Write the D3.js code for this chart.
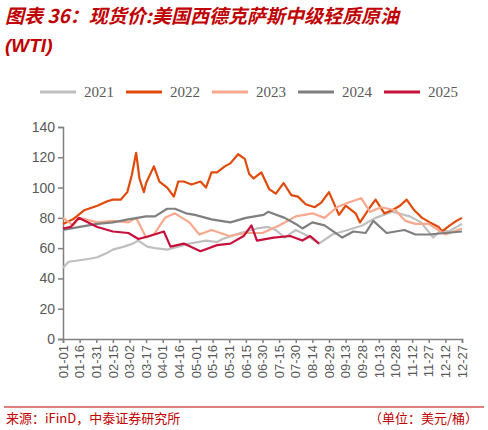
<!DOCTYPE html>
<html><head><meta charset="utf-8">
<script src="https://cdn.jsdelivr.net/npm/d3@7"></script>
<style>body{margin:0;background:#fff;font-family:"Liberation Sans",Arial,sans-serif}</style>
</head><body><svg width="488" height="430"></svg>
<script>
const years = ["2021", "2022", "2023", "2024", "2025"];
const colors = ["#bfbfbf", "#e04a0a", "#f8a88c", "#7f7f7f", "#c8103c"];
const tickLabels = ["01-01","01-16","01-31","02-15","03-02","03-17","04-01","04-16","05-01","05-16","05-31","06-15","06-30","07-15","07-30","08-14","08-29","09-13","09-28","10-13","10-28","11-12","11-27","12-12","12-27"];
const yTicks = [0, 20, 40, 60, 80, 100, 120, 140];

const s2021 = [["01-01",47],["01-06",51],["01-16",52],["01-25",53],["02-01",54],["02-10",57],["02-15",59],["02-25",61],["03-05",63],["03-10",65],["03-18",61],["03-25",60],["04-05",59],["04-15",61],["04-25",63],["05-10",65],["05-20",64],["05-25",66],["06-10",70],["06-25",73],["07-05",74],["07-12",72],["07-20",67],["07-30",72],["08-10",68],["08-20",63],["09-01",69],["09-15",72],["09-28",75],["10-10",80],["10-25",84],["11-10",81],["11-20",77],["12-01",67],["12-08",72],["12-15",71],["12-27",76]];
const s2022 = [["01-01",76],["01-10",79],["01-20",85],["02-01",88],["02-10",91],["02-15",92],["02-22",92],["02-28",97],["03-04",108],["03-08",123],["03-11",106],["03-15",97],["03-17",103],["03-24",114],["03-29",104],["04-05",100],["04-11",94],["04-15",104],["04-20",104],["04-27",102],["05-05",104],["05-10",100],["05-15",110],["05-20",110],["05-27",114],["06-01",116],["06-08",122],["06-14",119],["06-18",109],["06-22",106],["06-29",110],["07-06",99],["07-12",96],["07-19",103],["07-26",95],["08-01",94],["08-08",89],["08-16",87],["08-22",90],["08-29",97],["09-07",82],["09-13",88],["09-22",83],["09-26",77],["10-05",87],["10-10",92],["10-18",83],["10-25",85],["11-01",88],["11-07",92],["11-14",85],["11-21",80],["11-28",77],["12-06",74],["12-09",71],["12-16",75],["12-22",78],["12-27",80]];
const s2023 = [["01-01",80],["01-10",75],["01-16",80],["02-01",77],["02-15",78],["03-01",77],["03-08",80],["03-17",67],["03-24",69],["04-03",80],["04-12",83],["04-25",77],["05-04",69],["05-15",72],["05-31",68],["06-15",70],["06-30",70],["07-15",75],["07-30",81],["08-14",83],["08-25",80],["09-05",87],["09-15",90],["09-27",93],["10-05",84],["10-15",87],["10-28",85],["11-06",78],["11-15",76],["11-27",76],["12-12",69],["12-27",73]];
const s2024 = [["01-01",72],["01-16",74],["02-01",76],["02-15",77],["03-01",79],["03-17",81],["03-25",81],["04-05",86],["04-12",86],["04-22",83],["04-30",82],["05-15",79],["06-01",77],["06-15",80],["07-01",82],["07-05",84],["07-20",80],["07-30",76],["08-05",73],["08-14",77],["08-25",75],["09-10",67],["09-20",71],["10-01",70],["10-08",78],["10-20",70],["11-05",72],["11-15",69],["11-27",69],["12-12",70],["12-27",71]];
const s2025 = [["01-01",73],["01-08",74],["01-15",80],["02-01",74],["02-15",71],["03-01",70],["03-10",66],["03-20",68],["04-02",71],["04-08",61],["04-20",63],["05-05",58],["05-20",62],["06-01",63],["06-13",68],["06-20",75],["06-25",65],["07-10",67],["07-25",68],["08-05",65],["08-12",68],["08-20",63]];
const allSeries = [s2021, s2022, s2023, s2024, s2025];

const svg = d3.select("svg");
const dayOf = s => d3.timeDay.count(new Date(2021, 0, 1), d3.timeParse("%Y-%m-%d")("2021-" + s));

const x = d3.scaleLinear().domain([0, dayOf("12-27")]).range([63, 462]);
const y = d3.scaleLinear().domain([0, 140]).range([339, 127]);

// title
svg.append("text").attr("x", 5).attr("y", 23).attr("fill", "#c00000")
  .attr("font-size", 19).attr("font-weight", "bold").attr("font-style", "italic")
  .attr("font-family", "'Noto Sans CJK SC', sans-serif")
  .text("图表 36：现货价:美国西德克萨斯中级轻质原油");
svg.append("text").attr("x", 5).attr("y", 52).attr("fill", "#c00000")
  .attr("font-size", 19).attr("font-weight", "bold").attr("font-style", "italic")
  .text("(WTI)");

// legend
const leg = svg.append("g").selectAll("g").data(years).join("g")
  .attr("transform", (d, i) => `translate(${40 + i * 86},92)`);
leg.append("line").attr("x1", 0).attr("x2", 36).attr("stroke", (d, i) => colors[i]).attr("stroke-width", 3);
leg.append("text").attr("x", 44).attr("y", 5).attr("font-size", 15)
  .attr("font-family", "'Liberation Serif', serif").attr("fill", "#595959").text(d => d);

// axes
const yAxis = svg.append("g").attr("transform", "translate(63,0)")
  .call(d3.axisLeft(y).tickValues(yTicks).tickSize(5));
const xAxis = svg.append("g").attr("transform", "translate(0,339)")
  .call(d3.axisBottom(x).tickValues(tickLabels.map(dayOf)).tickFormat((d, i) => tickLabels[i]).tickSize(4));
svg.selectAll(".domain, .tick line").attr("stroke", "#808080").attr("stroke-width", 1.5);
yAxis.selectAll("text").attr("font-size", 14).attr("fill", "#595959");
xAxis.selectAll("text").attr("font-size", 13).attr("fill", "#595959")
  .attr("transform", "rotate(-90)").attr("text-anchor", "end").attr("dx", "-6").attr("dy", "0.32em").attr("y", 0).attr("x", 0);

// lines
const line = d3.line().x(d => x(dayOf(d[0]))).y(d => y(d[1]));
svg.append("g").selectAll("path").data(allSeries).join("path")
  .attr("d", line).attr("fill", "none")
  .attr("stroke", (d, i) => colors[i]).attr("stroke-width", 2.2).attr("stroke-linejoin", "round");

// footer
svg.append("line").attr("x1", 4).attr("x2", 484).attr("y1", 407).attr("y2", 407).attr("stroke", "#c00000").attr("stroke-width", 1);
svg.append("text").attr("x", 6).attr("y", 423).attr("font-size", 13).attr("fill", "#c00000")
  .attr("font-family", "'Noto Sans CJK SC', sans-serif").text("来源：iFinD，中泰证券研究所");
svg.append("text").attr("x", 478).attr("y", 423).attr("font-size", 13).attr("fill", "#c00000").attr("text-anchor", "end")
  .attr("font-family", "'Noto Sans CJK SC', sans-serif").text("（单位：美元/桶）");
</script></body></html>
